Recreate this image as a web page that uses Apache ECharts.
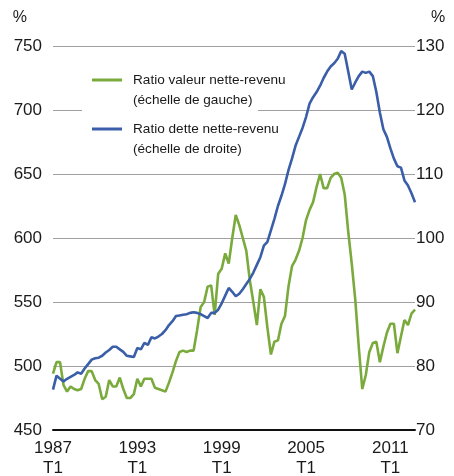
<!DOCTYPE html>
<html>
<head>
	<meta charset="UTF-8">
	<title>Ratio valeur / dette nette-revenu</title>
	<style type="text/css">
		html, body {
			margin: 0;
			padding: 0;
			background: #fff;
		}
		#chart {
			width: 454px;
			height: 476px;
		}
	</style>
</head>
<body>
	<div id="chart"></div>
	<script type="text/javascript" src="https://cdn.jsdelivr.net/npm/echarts@6/dist/echarts.min.js"></script>
	<script>
		// trimestres 1987 T1 .. 2012 T4
		var years = [1987, 1988, 1989, 1990, 1991, 1992, 1993, 1994, 1995, 1996, 1997, 1998, 1999,
			2000, 2001, 2002, 2003, 2004, 2005, 2006, 2007, 2008, 2009, 2010, 2011, 2012];
		var quarters = ['T1', 'T2', 'T3', 'T4'];
		var labelYears = [1987, 1993, 1999, 2005, 2011];

		// ratio valeur nette-revenu (echelle de gauche)
		var valeurNette = [
			494, 503, 503, 485, 480, 484, 482, 481, 482, 490, 496, 496,
			489, 486, 474, 476, 489, 484, 484, 491, 482, 475, 475, 478,
			490, 484, 490, 490, 490, 483, 482, 481, 480, 487, 495, 504,
			511, 512, 511, 512, 512, 528, 546, 550, 562, 563, 540, 572,
			576, 588, 580, 600, 618, 610, 600, 590, 567, 550, 532, 560,
			554, 530, 509, 519, 520, 533, 539, 562, 578, 583, 590, 600,
			614, 622, 628, 640, 650, 639, 639, 647, 650, 651, 647, 634,
			605, 580, 552, 515, 482, 493, 511, 518, 519, 503, 515, 526,
			533, 533, 510, 523, 536, 532, 541, 544
		];

		// ratio dette nette-revenu (echelle de droite)
		var detteNette = [
			76.3, 78.5, 78.0, 77.6, 78.0, 78.3, 78.6, 79.0, 78.8, 79.6, 80.3, 81.0,
			81.2, 81.3, 81.6, 82.1, 82.5, 83.0, 83.0, 82.6, 82.2, 81.6, 81.5, 81.4,
			82.8, 82.6, 83.6, 83.3, 84.5, 84.3, 84.6, 85.0, 85.6, 86.4, 87.0, 87.8,
			87.9, 88.0, 88.1, 88.3, 88.4, 88.3, 88.1, 87.8, 87.5, 88.3, 88.3, 88.8,
			89.8, 91.0, 92.2, 91.6, 90.9, 91.3, 92.0, 92.8, 93.6, 94.6, 95.8, 97.0,
			98.8, 99.4, 101.2, 103.0, 105.0, 106.6, 108.4, 110.6, 112.4, 114.4, 115.8, 117.2,
			118.9, 121.0, 122.0, 122.8, 123.8, 125.0, 126.0, 126.8, 127.3, 128.0, 129.2, 128.8,
			126.0, 123.2, 124.3, 125.3, 126.0, 125.8, 126.0, 125.3, 122.8, 119.6, 117.0, 115.8,
			114.0, 112.4, 111.2, 111.0, 109.0, 108.2, 107.0, 105.6
		];

		var nomValeur = 'Ratio valeur nette-revenu\n(échelle de gauche)';
		var nomDette = 'Ratio dette nette-revenu\n(échelle de droite)';

		var categories = [];
		for (var i = 0; i < years.length; i++) {
			for (var j = 0; j < quarters.length; j++) {
				categories.push(years[i] + '\n' + quarters[j]);
			}
		}

		var police = '"Liberation Sans", Arial, Helvetica, sans-serif';

		var echart = echarts.init(document.getElementById('chart'));
		var option = {
			animation: false,
			textStyle: {
				fontFamily: police
			},
			grid: {
				left: 53,
				right: 39,
				top: 46,
				bottom: 46,
				outerBoundsMode: 'none'
			},
			// fond blanc derriere la legende (coupe la ligne de 700)
			graphic: [
				{
					type: 'rect',
					z: 1,
					shape: { x: 82, y: 102, width: 176, height: 16 },
					style: { fill: '#fff' }
				}
			],
			legend: {
				left: 92,
				top: 50,
				orient: 'vertical',
				padding: 0,
				icon: 'rect',
				itemWidth: 30,
				itemHeight: 3,
				itemGap: -11,
				data: [nomValeur, nomDette],
				formatter: function (name) {
					// ligne vide en tete: l'icone s'aligne sur la 1re ligne du texte
					return '\n' + name;
				},
				textStyle: {
					fontFamily: police,
					fontSize: 13.6,
					lineHeight: 20,
					color: '#1a1a1a',
					padding: [0, 0, 0, 6]
				}
			},
			xAxis: {
				type: 'category',
				boundaryGap: false,
				data: categories,
				axisLine: {
					lineStyle: {
						color: '#111',
						width: 2
					}
				},
				axisTick: {
					show: false
				},
				axisLabel: {
					interval: function (idx, val) {
						return idx % 4 === 0 && labelYears.indexOf(parseInt(val, 10)) >= 0;
					},
					color: '#1a1a1a',
					fontSize: 17,
					lineHeight: 20,
					margin: 8
				},
				splitLine: {
					show: false
				}
			},
			yAxis: [
				{
					type: 'value',
					min: 450,
					max: 750,
					interval: 50,
					name: '%',
					nameLocation: 'end',
					nameGap: 20,
					nameTextStyle: {
						color: '#1a1a1a',
						fontSize: 16,
						align: 'right',
						padding: [0, 26, 0, 0]
					},
					axisLine: {
						show: false
					},
					axisTick: {
						show: false
					},
					axisLabel: {
						color: '#1a1a1a',
						fontSize: 17,
						margin: 11
					},
					splitLine: {
						lineStyle: {
							color: '#a0a0a0',
							width: 1
						}
					}
				},
				{
					type: 'value',
					min: 70,
					max: 130,
					interval: 10,
					name: '%',
					nameLocation: 'end',
					nameGap: 20,
					nameTextStyle: {
						color: '#1a1a1a',
						fontSize: 16,
						align: 'left',
						padding: [0, 0, 0, 16]
					},
					axisLine: {
						show: false
					},
					axisTick: {
						show: false
					},
					axisLabel: {
						color: '#1a1a1a',
						fontSize: 17,
						margin: 1
					},
					splitLine: {
						show: false
					}
				}
			],
			series: [
				{
					name: nomValeur,
					type: 'line',
					yAxisIndex: 0,
					data: valeurNette,
					showSymbol: false,
					lineStyle: {
						color: '#7aaa3c',
						width: 2.6
					},
					itemStyle: {
						color: '#7aaa3c'
					}
				},
				{
					name: nomDette,
					type: 'line',
					yAxisIndex: 1,
					data: detteNette,
					showSymbol: false,
					lineStyle: {
						color: '#3a5ea8',
						width: 2.6
					},
					itemStyle: {
						color: '#3a5ea8'
					}
				}
			]
		};
		echart.setOption(option);
	</script>
</body>
</html>
